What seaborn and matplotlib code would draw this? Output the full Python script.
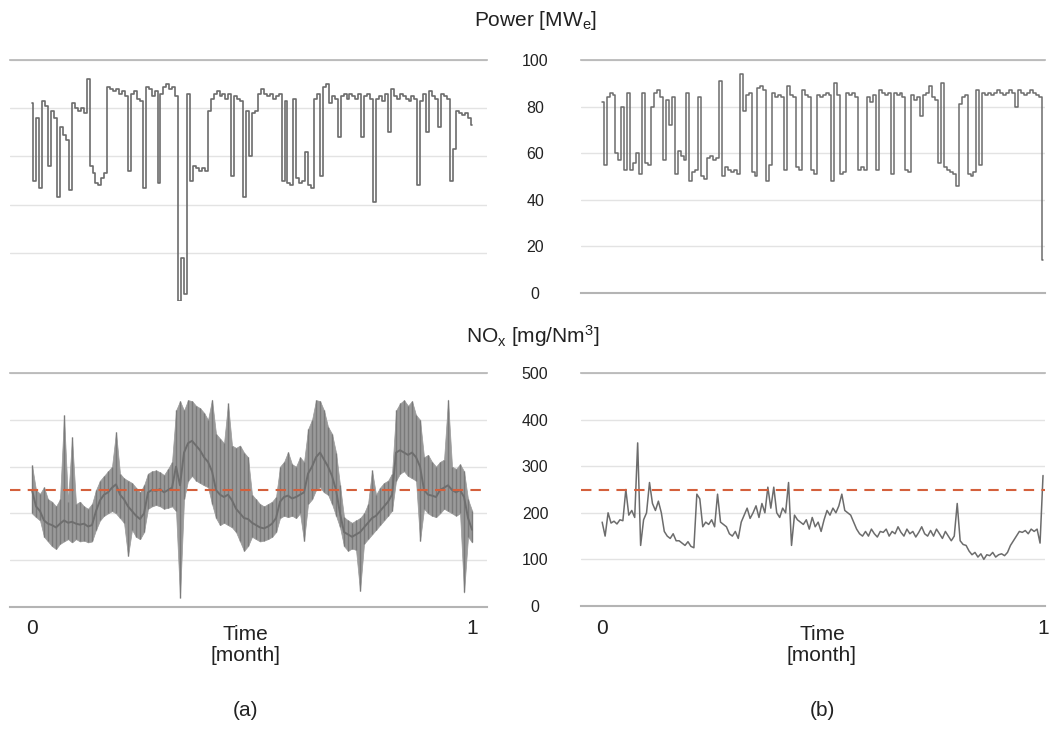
import numpy as np
import pandas as pd
import matplotlib
matplotlib.use("Agg")
import matplotlib.pyplot as plt
import seaborn as sns

# ---- data (one month, uniform sampling) ----
power_a = [
    82, 50, 76, 47, 83, 81, 56, 79, 76, 43, 72, 69, 67, 46, 82, 80, 79, 80, 78, 92,
    56, 53, 49, 48, 51, 53, 89, 88, 87, 88, 86, 87, 85, 54, 86, 87, 84, 83, 47, 89,
    88, 85, 87, 49, 86, 89, 90, 88, 89, 85, 0, 18, 3, 86, 50, 56, 55, 54, 55, 54,
    79, 84, 86, 87, 85, 86, 84, 86, 52, 85, 84, 83, 43, 79, 60, 78, 79, 86, 88, 86,
    85, 86, 84, 85, 86, 50, 83, 49, 48, 84, 51, 49, 50, 62, 48, 47, 84, 86, 52, 89,
    90, 82, 85, 84, 68, 85, 86, 84, 86, 85, 84, 86, 68, 85, 86, 84, 41, 84, 85, 83,
    86, 70, 88, 85, 84, 86, 85, 84, 83, 85, 84, 48, 83, 86, 70, 87, 85, 84, 72, 86,
    85, 84, 50, 63, 79, 78, 77, 78, 76, 73,
]

power_b = [
    82, 55, 84, 86, 85, 60, 57, 80, 53, 86, 53, 56, 60, 51, 86, 56, 55, 80, 86, 87,
    84, 57, 83, 72, 84, 51, 61, 59, 57, 86, 48, 52, 53, 84, 50, 49, 58, 59, 57, 58,
    91, 50, 54, 53, 52, 53, 51, 94, 78, 85, 86, 52, 50, 88, 89, 87, 48, 55, 86, 84,
    85, 84, 53, 89, 85, 84, 54, 53, 87, 85, 84, 53, 51, 85, 84, 85, 86, 85, 48, 90,
    85, 51, 52, 86, 85, 86, 84, 53, 54, 53, 84, 82, 85, 53, 87, 86, 85, 86, 51, 86,
    85, 86, 84, 53, 52, 85, 83, 84, 76, 85, 86, 89, 84, 83, 56, 90, 54, 53, 52, 51,
    46, 81, 84, 85, 51, 50, 52, 87, 55, 86, 85, 86, 85, 86, 87, 86, 85, 86, 87, 86,
    80, 87, 86, 85, 86, 87, 86, 85, 84, 14,
]

# NOx (a) oscillates strongly: lower edge, upper edge and running centre
nox_a_low = [
    200, 192, 185, 150, 140, 130, 124, 135, 140, 145, 138, 145, 140, 142, 138, 140, 165, 185, 195, 200,
    205, 200, 190, 180, 109, 165, 150, 145, 160, 210, 215, 218, 215, 210, 212, 215, 205, 20, 230, 270,
    280, 270, 265, 260, 256, 220, 190, 175, 180, 175, 170, 160, 140, 120, 130, 150, 145, 140, 142, 145,
    150, 160, 190, 195, 192, 195, 190, 200, 141, 220, 230, 250, 256, 245, 240, 220, 195, 170, 130, 120,
    125, 122, 34, 135, 145, 155, 165, 175, 185, 195, 206, 270, 285, 290, 280, 275, 270, 141, 210, 200,
    195, 192, 200, 210, 205, 200, 195, 200, 31, 150, 138,
]
nox_a_mid = [
    250, 215, 205, 185, 178, 175, 170, 178, 185, 180, 182, 178, 176, 178, 172, 175, 205, 228, 240, 245,
    255, 262, 240, 230, 215, 205, 195, 188, 200, 245, 250, 248, 252, 245, 250, 255, 300, 260, 330, 350,
    355, 345, 335, 320, 310, 290, 250, 240, 235, 240, 228, 210, 200, 190, 188, 180, 175, 170, 168, 172,
    178, 190, 225, 235, 238, 232, 235, 240, 245, 285, 300, 320, 330, 315, 300, 280, 250, 200, 160, 155,
    150, 155, 160, 170, 180, 190, 195, 205, 215, 225, 240, 330, 335, 330, 325, 330, 320, 300, 250, 240,
    238, 235, 250, 255, 260, 250, 245, 250, 235, 190, 165,
]
nox_a_high = [
    303, 250, 242, 256, 230, 225, 215, 230, 410, 225, 363, 220, 225, 215, 210, 220, 250, 270, 280, 290,
    300, 374, 285, 275, 270, 265, 255, 245, 260, 285, 290, 292, 288, 282, 295, 310, 420, 440, 420, 442,
    440, 430, 425, 415, 400, 443, 370, 360, 350, 435, 345, 340, 345, 330, 320, 240, 230, 220, 215, 220,
    225, 235, 300, 310, 331, 305, 300, 320, 310, 380, 400, 442, 440, 420, 385, 370, 330, 260, 192, 185,
    180, 185, 190, 200, 220, 292, 240, 255, 265, 270, 285, 420, 435, 442, 430, 440, 410, 400, 320, 325,
    310, 300, 310, 315, 443, 300, 295, 305, 290, 230, 206,
]

nox_b = [
    180, 150, 200, 178, 182, 176, 185, 183, 250, 195, 205, 190, 350, 130, 185, 200, 265, 220, 205, 225,
    200, 160, 150, 145, 155, 140, 140, 135, 130, 138, 128, 125, 240, 230, 170, 180, 175, 185, 170, 240,
    180, 175, 170, 155, 150, 160, 145, 180, 195, 210, 188, 200, 215, 190, 220, 200, 255, 210, 255, 200,
    190, 210, 200, 265, 130, 195, 185, 180, 175, 185, 165, 190, 170, 180, 160, 185, 205, 195, 210, 200,
    215, 240, 205, 200, 195, 180, 165, 155, 150, 160, 150, 165, 155, 148, 160, 158, 165, 150, 160, 155,
    170, 158, 150, 165, 155, 160, 148, 158, 170, 155, 150, 162, 150, 165, 155, 145, 160, 150, 140, 150,
    220, 140, 132, 130, 118, 110, 115, 105, 112, 100, 110, 108, 115, 105, 110, 112, 108, 115, 130, 140,
    150, 160, 158, 162, 155, 165, 160, 165, 135, 280,
]

nox_limit = 250
power_ticks = [0, 20, 40, 60, 80, 100]
nox_ticks = [0, 100, 200, 300, 400, 500]

t_power_a = np.linspace(0, 1, len(power_a))
t_power_b = np.linspace(0, 1, len(power_b))
t_nox_a = np.linspace(0, 1, len(nox_a_mid))
t_nox_b = np.linspace(0, 1, len(nox_b))

# ---- style ----
sns.set_theme(style="white")
plt.rcParams["font.family"] = ["Liberation Sans", "DejaVu Sans"]
plt.rcParams["mathtext.fontset"] = "custom"
plt.rcParams["mathtext.rm"] = "Liberation Sans"
plt.rcParams["mathtext.it"] = "Liberation Sans:italic"

LINE = "#6c6c6c"
BAND = "#9a9a9a"
GRID = "#e3e3e3"
FRAME = "#b4b4b4"
RED = "#d4603c"
W, H = 1055, 730

fig = plt.figure(figsize=(10.55, 7.3), dpi=100)


def box(x0, y_top, x1, y_bot):
    return [x0 / W, 1 - y_bot / H, (x1 - x0) / W, (y_bot - y_top) / H]


ax_pa = fig.add_axes(box(10, 60, 487, 301))
ax_pb = fig.add_axes(box(581, 60, 1045, 293))
ax_na = fig.add_axes(box(10, 373, 487, 607))
ax_nb = fig.add_axes(box(581, 373, 1045, 606))

# power (step drawing keeps the load changes vertical)
sns.lineplot(x=t_power_a, y=power_a, ax=ax_pa, color=LINE, linewidth=1.2, errorbar=None,
             sort=False, drawstyle="steps-mid")
sns.lineplot(x=t_power_b, y=power_b, ax=ax_pb, color=LINE, linewidth=1.1, errorbar=None,
             sort=False, drawstyle="steps-mid")

# nox
ax_na.fill_between(t_nox_a, nox_a_low, nox_a_high, color=BAND, linewidth=0.5, edgecolor=BAND)
ax_na.vlines(t_nox_a, nox_a_low, nox_a_high, color="#7a7a7a", linewidth=1.0)
sns.lineplot(x=t_nox_a, y=nox_a_mid, ax=ax_na, color="#6e6e6e", linewidth=1.4, errorbar=None, sort=False)
sns.lineplot(x=t_nox_b, y=nox_b, ax=ax_nb, color=LINE, linewidth=1.1, errorbar=None, sort=False)
for ax in (ax_na, ax_nb):
    ax.axhline(nox_limit, color=RED, linewidth=1.5, dashes=(5, 3.5), zorder=3)

ax_pa.set_xlim(-0.05, 1.034)
ax_na.set_xlim(-0.05, 1.034)
ax_pb.set_xlim(-0.048, 1.0045)
ax_nb.set_xlim(-0.048, 1.0045)
for ax in (ax_pa, ax_pb):
    ax.set_ylim(0, 100)
for ax in (ax_na, ax_nb):
    ax.set_ylim(0, 500)

ax_pa.set_yticks(power_ticks[1:])
ax_pb.set_yticks(power_ticks)
ax_na.set_yticks(nox_ticks)
ax_nb.set_yticks(nox_ticks)

for ax in (ax_pa, ax_pb, ax_na, ax_nb):
    ax.grid(axis="y", color=GRID, linewidth=1.0)
    ax.set_axisbelow(True)
    for side in ("left", "right"):
        ax.spines[side].set_visible(False)
    ax.spines["top"].set_color(FRAME)
    ax.spines["top"].set_linewidth(1.2)
    ax.spines["bottom"].set_color(FRAME)
    ax.spines["bottom"].set_linewidth(1.5)
    ax.set_xlabel("")
    ax.set_ylabel("")
ax_pa.spines["bottom"].set_visible(False)

for ax in (ax_pa, ax_na):
    ax.tick_params(axis="y", left=False, labelleft=False)
for ax in (ax_pb, ax_nb):
    ax.tick_params(axis="y", length=0, pad=33, labelsize=11.5, labelcolor="#222222")
    for lab in ax.get_yticklabels():
        lab.set_horizontalalignment("center")

for ax in (ax_pa, ax_pb):
    ax.set_xticks([])
for ax in (ax_na, ax_nb):
    ax.set_xticks([0, 1])
    ax.set_xticklabels(["0", "1"])
    ax.tick_params(axis="x", length=0, pad=9, labelsize=15, labelcolor="#222222")

# panel captions
fig.text(535 / W, 1 - 20 / H, r"Power [MW$_\mathrm{e}$]", ha="center", va="center", fontsize=15, color="#222222")
fig.text(533 / W, 1 - 336 / H, r"NO$_\mathrm{x}$ [mg/Nm$^\mathrm{3}$]", ha="center", va="center", fontsize=15, color="#222222")
for xc, tag in ((245, "(a)"), (822, "(b)")):
    fig.text(xc / W, 1 - 645 / H, "Time\n[month]", ha="center", va="center", fontsize=15,
             linespacing=1.15, color="#222222")
    fig.text(xc / W, 1 - 711 / H, tag, ha="center", va="center", fontsize=15, color="#222222")

fig.savefig("out.png", dpi=100, facecolor="white")
